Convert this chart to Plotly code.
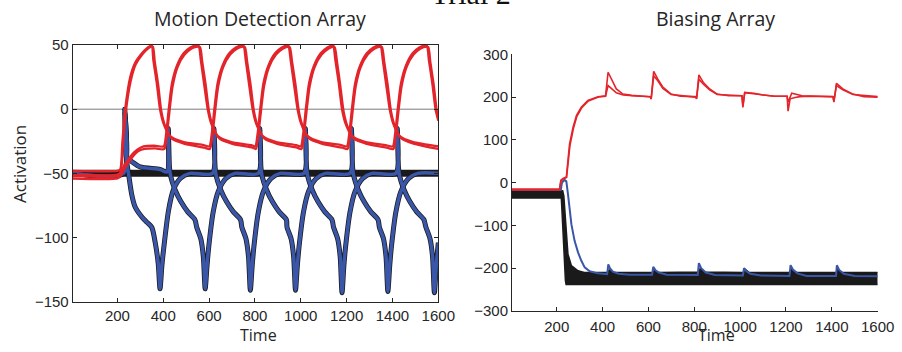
import plotly.graph_objects as go

# ---------------------------------------------------------------------------
# Motion Detection Array: time / activation pairs for each population trace
# ---------------------------------------------------------------------------
# red units, first phase group (two traces)
red_a1 = [(5, -48), (200, -48), (212, -47), (222, -25), (234, 0), (256, 25), (277, 36),
          (307, 43.5), (328, 47.4), (343, 49.2), (350, 49.6), (357, 38), (372, 20), (386, 0),
          (401, -11), (430, -21), (486, -25.5), (576, -28), (601, -29), (611, -20), (623, 0),
          (637, 20), (659, 34), (688, 43.5), (717, 48), (739, 49.6), (750, 49.5), (760, 38),
          (774, 20), (790, 0), (805, -11), (834, -21), (890, -25.5), (980, -28), (1000, -29),
          (1010, -20), (1022, 0), (1036, 20), (1058, 34), (1087, 43.5), (1116, 48), (1136, 49.6),
          (1142, 49.5), (1151, 38), (1166, 20), (1180, 0), (1195, -11), (1224, -21),
          (1280, -25.5), (1370, -28), (1401, -29), (1411, -20), (1423, 0), (1437, 20), (1459, 34),
          (1488, 43.5), (1517, 48), (1539, 49.6), (1550, 49.5), (1559, 38), (1574, 20), (1588, 0),
          (1600, -9)]
red_a2 = [(5, -51), (200, -51), (214, -49), (224, -28), (236, -3), (258, 22), (280, 35),
          (310, 43), (332, 47), (348, 48.8), (355, 48.6), (363, 37), (378, 19), (392, -2),
          (408, -13), (438, -23), (494, -27), (580, -30), (603, -31), (614, -21), (626, -2),
          (640, 18), (662, 33), (692, 42.5), (721, 47), (743, 48.6), (756, 48.3), (766, 37),
          (781, 19), (796, -2), (812, -13), (842, -23), (898, -27), (984, -30), (1003, -31),
          (1013, -21), (1025, -2), (1039, 18), (1061, 33), (1091, 42.5), (1120, 47), (1140, 48.6),
          (1148, 48.3), (1158, 37), (1172, 19), (1187, -2), (1203, -13), (1232, -23),
          (1288, -27), (1376, -30), (1404, -31), (1414, -21), (1426, -2), (1440, 18), (1462, 33),
          (1492, 42.5), (1521, 47), (1543, 48.6), (1556, 48.3), (1565, 37), (1580, 19),
          (1594, -2), (1600, -6)]
# red units, second phase group (two traces)
red_b1 = [(5, -52), (200, -52), (212, -50), (230, -44), (256, -37), (285, -31.8), (314, -29),
          (360, -28.5), (402, -29), (412, -20), (424, 0), (438, 20), (460, 34), (489, 43.5),
          (518, 48), (540, 49.6), (554, 49.5), (564, 38), (578, 20), (594, 0), (609, -11),
          (638, -21), (694, -25.5), (784, -28), (801, -29), (811, -20), (823, 0), (837, 20),
          (859, 34), (888, 43.5), (917, 48), (939, 49.6), (946, 49.5), (956, 38), (970, 20),
          (986, 0), (1001, -11), (1030, -21), (1086, -25.5), (1176, -28), (1201, -29),
          (1211, -20), (1223, 0), (1237, 20), (1259, 34), (1288, 43.5), (1317, 48), (1339, 49.6),
          (1348, 49.5), (1358, 38), (1372, 20), (1388, 0), (1403, -11), (1432, -21),
          (1488, -25.5), (1600, -29)]
red_b2 = [(5, -54), (200, -54), (214, -52), (232, -46), (258, -39), (288, -33), (318, -31),
          (365, -30.5), (405, -31), (415, -21), (427, -2), (441, 18), (463, 33), (493, 42.5),
          (522, 47), (544, 48.6), (560, 48.3), (570, 37), (585, 19), (600, -2), (616, -13),
          (646, -23), (702, -27), (790, -30), (804, -31), (814, -21), (826, -2), (840, 18),
          (862, 33), (892, 42.5), (921, 47), (943, 48.6), (952, 48.3), (962, 37), (977, 19),
          (992, -2), (1008, -13), (1038, -23), (1094, -27), (1182, -30), (1204, -31),
          (1214, -21), (1226, -2), (1240, 18), (1262, 33), (1292, 42.5), (1321, 47), (1343, 48.6),
          (1354, 48.3), (1364, 37), (1379, 19), (1394, -2), (1410, -13), (1440, -23),
          (1496, -27), (1600, -31)]
# blue (inhibited) units, one trace per phase group
blue_a = [(5, -50), (226, -50), (232, 0), (240, -40), (250, -52), (262, -66), (277, -76),
          (307, -84), (328, -88), (350, -92), (365, -104), (378, -120), (386, -140), (394, -122),
          (401, -110), (423, -79), (444, -63), (474, -54), (516, -50),
          (615, -50), (621, -15), (626, -45), (631, -52), (651, -63), (676, -72), (706, -80),
          (737, -86), (743, -92), (761, -101), (772, -115), (780, -141), (788, -122),
          (795, -108), (815, -80), (837, -64), (870, -54), (910, -50),
          (1014, -50), (1020, -15), (1025, -45), (1030, -52), (1050, -63), (1075, -72),
          (1105, -80), (1136, -86), (1143, -92), (1161, -101), (1172, -115), (1180, -143),
          (1188, -122), (1195, -108), (1215, -80), (1237, -64), (1270, -54), (1310, -50),
          (1415, -50), (1421, -15), (1426, -45), (1431, -52), (1451, -63), (1476, -72),
          (1506, -80), (1537, -86), (1546, -92), (1564, -101), (1575, -115), (1583, -143),
          (1591, -122), (1598, -108), (1600, -104)]
blue_b = [(5, -50), (226, -50), (233, -3), (240, -38), (256, -40), (299, -45), (386, -47),
          (416, -49),
          (422, -15), (427, -45), (432, -52), (452, -63), (477, -72), (507, -80), (538, -86),
          (546, -92), (564, -101), (575, -115), (583, -140), (591, -122), (598, -108),
          (618, -80), (640, -64), (673, -54), (713, -50),
          (815, -50), (821, -15), (826, -45), (831, -52), (851, -63), (876, -72), (906, -80),
          (937, -86), (940, -92), (958, -101), (969, -115), (977, -141), (985, -122),
          (992, -108), (1012, -80), (1034, -64), (1067, -54), (1107, -50),
          (1215, -50), (1221, -15), (1226, -45), (1231, -52), (1251, -63), (1276, -72),
          (1306, -80), (1337, -86), (1343, -92), (1361, -101), (1372, -115), (1380, -142),
          (1388, -122), (1395, -108), (1415, -80), (1437, -64), (1470, -54), (1510, -50),
          (1600, -50)]
# resting (black) population and the zero reference
black_rest = [(5, -50), (1600, -50)]
zero_ref = [(5, 0), (1600, 0)]

# ---------------------------------------------------------------------------
# Biasing Array
# ---------------------------------------------------------------------------
bias_red_1 = [(5, -17), (212, -17), (218, 6), (228, 10), (242, 13), (249, 51), (256, 90),
              (271, 129), (286, 157), (307, 176), (336, 192), (380, 201), (413, 203),
              (424, 258), (438, 242), (460, 219), (489, 207), (527, 204), (580, 202), (608, 201),
              (612, 196), (623, 260), (641, 242), (663, 223), (699, 207), (740, 202), (806, 201),
              (810, 197), (820, 252), (840, 234), (867, 219), (900, 207), (950, 203), (1008, 203),
              (1012, 176), (1020, 211), (1060, 209), (1100, 205), (1150, 202), (1205, 202),
              (1209, 167), (1218, 196), (1240, 199), (1260, 201), (1300, 202), (1405, 201),
              (1409, 188), (1420, 232), (1448, 219), (1492, 207), (1540, 201), (1600, 200)]
bias_red_2 = [(5, -15), (212, -15), (219, 4), (230, 9), (243, 12), (250, 48), (258, 88),
              (273, 127), (288, 155), (309, 175), (338, 191), (382, 200), (413, 202),
              (424, 227), (440, 219), (460, 210), (490, 205), (530, 203), (608, 201), (612, 195),
              (623, 250), (641, 238), (663, 220), (699, 206), (806, 200), (810, 196), (820, 242),
              (840, 230), (867, 217), (900, 206), (1008, 203), (1012, 180), (1020, 210),
              (1060, 208), (1150, 202), (1205, 202), (1209, 188), (1225, 209), (1245, 207),
              (1270, 203), (1405, 201), (1409, 190), (1420, 227), (1448, 217), (1492, 206),
              (1600, 201)]
bias_blue = [(5, -17), (218, -17), (222, -2), (227, 3), (235, 6), (242, 3), (249, -26),
             (256, -65), (264, -97), (278, -136), (293, -163), (307, -182), (322, -198),
             (344, -207), (380, -212), (420, -214), (425, -191), (432, -200), (445, -208),
             (470, -213), (520, -215), (616, -215), (621, -197), (630, -204), (645, -210),
             (680, -215), (815, -216), (820, -188), (830, -200), (850, -210), (890, -216),
             (1012, -217), (1017, -200), (1027, -207), (1045, -213), (1090, -217), (1215, -218),
             (1220, -193), (1230, -203), (1250, -212), (1290, -218), (1418, -218), (1422, -193),
             (1432, -204), (1452, -213), (1500, -218), (1600, -219)]
# envelope of the black (background) units
bias_black_top = [(5, -19), (226, -19), (231, -31), (238, -89), (243, -136), (249, -167),
                  (264, -194), (293, -206), (320, -210), (424, -210), (429, -204), (445, -210),
                  (620, -210), (625, -205), (640, -210), (820, -209), (826, -200), (845, -209),
                  (1018, -210), (1023, -203), (1040, -210), (1220, -210), (1225, -203),
                  (1245, -210), (1420, -210), (1425, -202), (1445, -210), (1600, -210)]
bias_black_bottom = [(5, -36), (220, -36), (223, -66), (227, -120), (232, -182), (238, -229),
                     (241, -238), (1600, -238)]

x_ticks = [200, 400, 600, 800, 1000, 1200, 1400, 1600]
y_ticks_motion = [-150, -100, -50, 0, 50]
y_ticks_bias = [-300, -200, -100, 0, 100, 200, 300]

RED = "#e3242b"
BLUE = "#3a56a8"
BLACK = "#1a1a1a"
AXIS = "#262626"
W, H = 902, 352


def fx(p):
    return p / W


def fy(p):
    return 1 - p / H


def line(pairs, color, width, axes, shape="linear", **kw):
    t, v = zip(*pairs)
    ln = dict(color=color, width=width, shape=shape)
    if shape == "spline":
        ln["smoothing"] = 0.7
    return go.Scatter(x=list(t), y=list(v), mode="lines", line=ln,
                      xaxis=axes[0], yaxis=axes[1], hoverinfo="skip",
                      showlegend=False, **kw)


L = ("x", "y")
R = ("x2", "y2")

fig = go.Figure()
# left panel
fig.add_trace(line(zero_ref, "#7a7a7a", 1, L))
fig.add_trace(line(black_rest, BLACK, 7, L))
for tr in (blue_a, blue_b):
    fig.add_trace(line(tr, BLACK, 5, L, "spline"))
for tr in (blue_a, blue_b):
    fig.add_trace(line(tr, BLUE, 3.5, L, "spline"))
for tr in (red_b2, red_a2, red_b1, red_a1):
    fig.add_trace(line(tr, RED, 2.3, L, "spline"))

# right panel
fig.add_trace(line(bias_black_bottom, BLACK, 1.5, R))
fig.add_trace(line(bias_black_top, BLACK, 1.5, R, fill="tonexty", fillcolor=BLACK))
fig.add_trace(line(bias_blue, BLUE, 2, R))
for tr in (bias_red_2, bias_red_1):
    fig.add_trace(line(tr, RED, 1.6, R))

tick_font = dict(family="Liberation Sans, Arial, sans-serif", size=15, color=AXIS)
common_x = dict(range=[5, 1600], tickvals=x_ticks, ticks="inside", ticklen=4,
                tickcolor=AXIS, showline=True, linecolor=AXIS, linewidth=1,
                showgrid=False, zeroline=False, tickfont=tick_font, automargin=False)
common_y = dict(ticks="inside", ticklen=4, tickcolor=AXIS, showline=True,
                linecolor=AXIS, linewidth=1, showgrid=False, zeroline=False,
                tickfont=tick_font, automargin=False)

fig.update_layout(
    width=W, height=H,
    margin=dict(l=0, r=0, t=0, b=0, autoexpand=False),
    paper_bgcolor="white", plot_bgcolor="white",
    showlegend=False, hovermode=False,
    xaxis=dict(domain=[fx(72.7), fx(438.3)], anchor="y", mirror="ticks", **common_x),
    yaxis=dict(domain=[fy(301.7), fy(45)], anchor="x", range=[-150, 50],
               tickvals=y_ticks_motion, mirror="ticks", **common_y),
    xaxis2=dict(domain=[fx(512), fx(877.7)], anchor="y2", mirror=False,
                ticklabelstandoff=2, **common_x),
    yaxis2=dict(domain=[fy(311), fy(54.3)], anchor="x2", range=[-300, 300],
                tickvals=y_ticks_bias, mirror=False, **common_y),
)

label_font = dict(family="Open Sans, Noto Sans, sans-serif", size=16, color=AXIS)
title_font = dict(family="Open Sans, Noto Sans, sans-serif", size=19.5, color=AXIS)
annotations = [
    dict(text="Motion Detection Array", x=fx(259.7), y=fy(18), font=title_font),
    dict(text="Biasing Array", x=fx(715), y=fy(18.5), font=title_font),
    dict(text="Activation", x=fx(20), y=fy(164), textangle=-90,
         font=dict(label_font, size=17)),
    dict(text="Time", x=fx(258), y=fy(334.5), font=label_font),
    dict(text="Time", x=fx(716), y=fy(335), font=label_font),
    dict(text="Trial 2", x=fx(471), y=fy(12), yanchor="bottom",
         font=dict(family="Liberation Serif, serif", size=30, color="#111111")),
]
for a in annotations:
    a.setdefault("yanchor", "middle")
    fig.add_annotation(xref="paper", yref="paper", xanchor="center", showarrow=False, **a)

fig.write_html("out.html")
